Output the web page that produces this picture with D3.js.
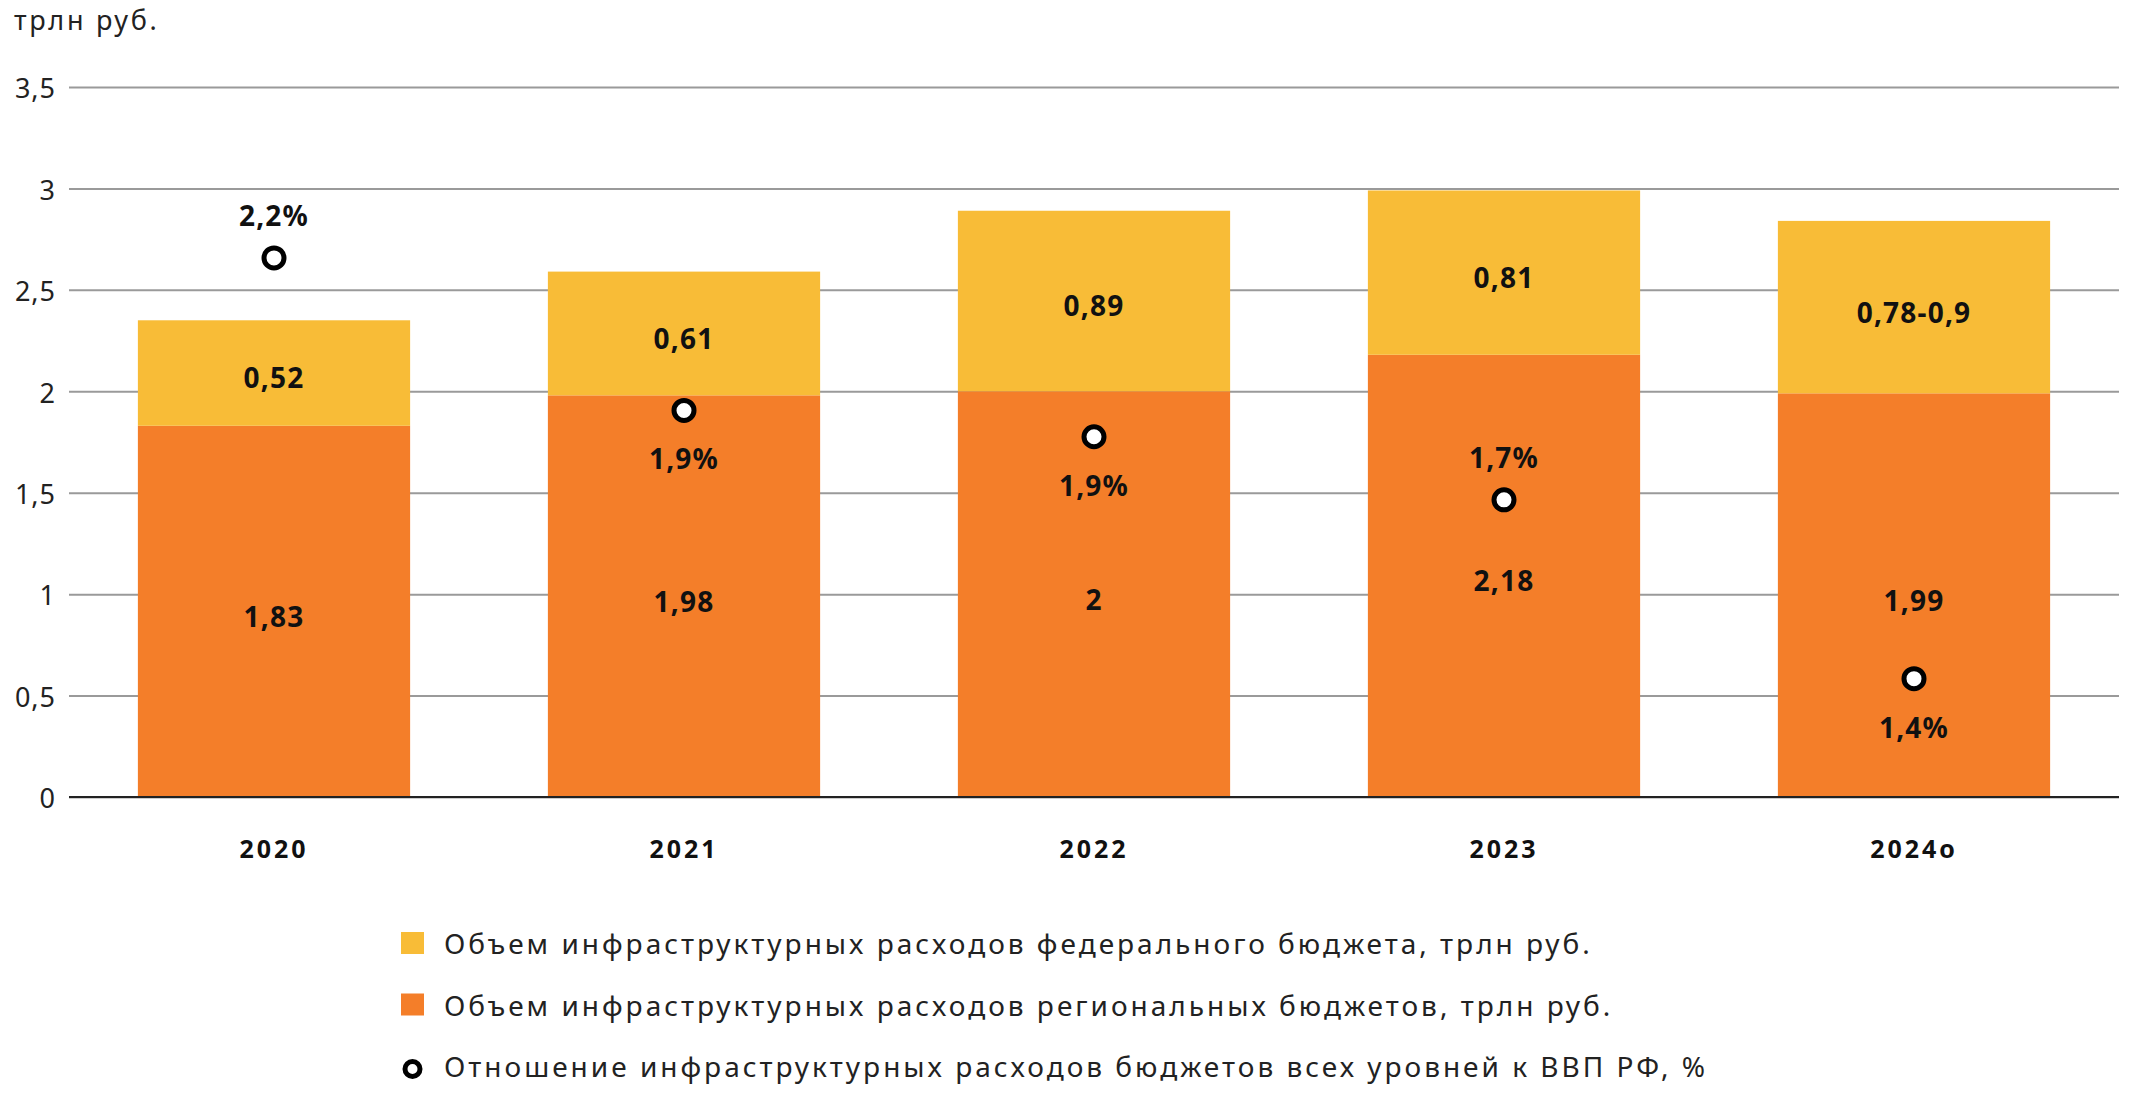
<!DOCTYPE html>
<html>
<head>
<meta charset="utf-8">
<script src="https://cdn.jsdelivr.net/npm/d3@7"></script>
<style>
  body { margin: 0; background: #fff; }
  svg text { font-family: "Noto Sans", "DejaVu Sans", sans-serif; }
</style>
</head>
<body>
<div id="chart"></div>
<script>
// data
var years = ["2020", "2021", "2022", "2023", "2024о"];
var regional = [1.83, 1.98, 2.0, 2.18, 1.99];
var regionalLabels = ["1,83", "1,98", "2", "2,18", "1,99"];
var federal = [0.52, 0.61, 0.89, 0.81, 0.85];
var federalLabels = ["0,52", "0,61", "0,89", "0,81", "0,78-0,9"];
var gdpShare = [2.2, 1.91, 1.86, 1.74, 1.4];
var gdpLabels = ["2,2%", "1,9%", "1,9%", "1,7%", "1,4%"];
var gdpLabelSide = ["top", "bottom", "bottom", "top", "bottom"];
var yTicks = [0, 0.5, 1, 1.5, 2, 2.5, 3, 3.5];
var legendLabels = [
	"Объем инфраструктурных расходов федерального бюджета, трлн руб.",
	"Объем инфраструктурных расходов региональных бюджетов, трлн руб.",
	"Отношение инфраструктурных расходов бюджетов всех уровней к ВВП РФ, %"
];

(function() {
	var width = 2132, height = 1106;
	var plotLeft = 69, plotRight = 2119, plotTop = 87, plotBottom = 797;
	var colYellow = "#F8BC37", colOrange = "#F47E29";

	var svg = d3.select("#chart").append("svg")
		.attr("width", width)
		.attr("height", height);

	var x = d3.scaleBand()
		.domain(years)
		.range([plotLeft, plotRight])
		.paddingInner(0.336)
		.paddingOuter(0.168);

	var y = d3.scaleLinear()
		.domain([0, 3.5])
		.range([plotBottom, plotTop]);

	// hidden secondary axis for the % markers
	var y2 = d3.scaleLinear()
		.domain([1.175, 2.525])
		.range([plotBottom, plotTop]);

	var fmt = function(d) { return String(d).replace(".", ","); };

	// unit label
	svg.append("text")
		.attr("x", 14)
		.attr("y", 30)
		.attr("font-size", "27px")
		.attr("fill", "#222")
		.attr("letter-spacing", "2.7px")
		.text("трлн руб.");

	// grid + y labels
	var yAxis = svg.append("g")
		.attr("transform", "translate(" + plotLeft + ",0)")
		.call(d3.axisLeft(y)
			.tickValues(yTicks)
			.tickSize(-(plotRight - plotLeft))
			.tickPadding(13)
			.tickFormat(fmt));
	yAxis.select(".domain").remove();
	yAxis.selectAll(".tick line")
		.attr("stroke", "#9a9a9a")
		.attr("stroke-width", 2);
	yAxis.selectAll(".tick text")
		.attr("font-size", "27px")
		.attr("fill", "#222")
		.attr("letter-spacing", "1px")
		.attr("dy", "0.4em");

	var data = years.map(function(yr, i) {
		return {year: yr, reg: regional[i], fed: federal[i], regL: regionalLabels[i], fedL: federalLabels[i],
			gdp: gdpShare[i], gdpL: gdpLabels[i], side: gdpLabelSide[i]};
	});

	var bars = svg.append("g");
	bars.selectAll(".reg").data(data).enter().append("rect")
		.attr("x", function(d) { return x(d.year); })
		.attr("width", x.bandwidth())
		.attr("y", function(d) { return y(d.reg); })
		.attr("height", function(d) { return y(0) - y(d.reg); })
		.attr("fill", colOrange);
	bars.selectAll(".fed").data(data).enter().append("rect")
		.attr("x", function(d) { return x(d.year); })
		.attr("width", x.bandwidth())
		.attr("y", function(d) { return y(d.reg + d.fed); })
		.attr("height", function(d) { return y(d.reg) - y(d.reg + d.fed); })
		.attr("fill", colYellow);

	// zero line
	svg.append("line")
		.attr("x1", plotLeft).attr("x2", plotRight)
		.attr("y1", y(0)).attr("y2", y(0))
		.attr("stroke", "#222")
		.attr("stroke-width", 2);

	var cx = function(d) { return x(d.year) + x.bandwidth() / 2; };

	var labels = svg.append("g")
		.attr("text-anchor", "middle")
		.attr("font-size", "28px")
		.attr("font-weight", "bold")
		.attr("letter-spacing", "1.2px")
		.attr("fill", "#111");
	labels.selectAll(".regl").data(data).enter().append("text")
		.attr("x", cx)
		.attr("y", function(d) { return (y(0) + y(d.reg)) / 2; })
		.attr("dy", "0.55em")
		.text(function(d) { return d.regL; });
	labels.selectAll(".fedl").data(data).enter().append("text")
		.attr("x", cx)
		.attr("y", function(d) { return (y(d.reg) + y(d.reg + d.fed)) / 2; })
		.attr("dy", "0.55em")
		.text(function(d) { return d.fedL; });

	// % markers
	svg.append("g").selectAll("circle").data(data).enter().append("circle")
		.attr("cx", cx)
		.attr("cy", function(d) { return y2(d.gdp); })
		.attr("r", 10)
		.attr("fill", "#fff")
		.attr("stroke", "#000")
		.attr("stroke-width", 5);
	labels.selectAll(".gdpl").data(data).enter().append("text")
		.attr("x", cx)
		.attr("y", function(d) { return y2(d.gdp) + (d.side === "top" ? -32 : 59); })
		.text(function(d) { return d.gdpL; });

	// x labels
	svg.append("g").selectAll("text").data(data).enter().append("text")
		.attr("x", cx)
		.attr("y", 858)
		.attr("text-anchor", "middle")
		.attr("font-size", "25px")
		.attr("font-weight", "bold")
		.attr("fill", "#111")
		.attr("letter-spacing", "3px")
		.text(function(d) { return d.year; });

	// legend
	var legend = svg.append("g").attr("transform", "translate(401,932)");
	var items = legend.selectAll("g").data(legendLabels).enter().append("g")
		.attr("transform", function(d, i) { return "translate(0," + (i * 61.5) + ")"; });
	items.filter(function(d, i) { return i < 2; }).append("rect")
		.attr("width", 23)
		.attr("height", 22)
		.attr("fill", function(d, i) { return i === 0 ? colYellow : colOrange; });
	items.filter(function(d, i) { return i === 2; }).append("circle")
		.attr("cx", 11.5)
		.attr("cy", 14)
		.attr("r", 7.5)
		.attr("fill", "#fff")
		.attr("stroke", "#000")
		.attr("stroke-width", 5);
	items.append("text")
		.attr("x", 43)
		.attr("y", 22)
		.attr("font-size", "28px")
		.attr("fill", "#222")
		.attr("letter-spacing", "3px")
		.text(function(d) { return d; });
})();
</script>
</body>
</html>
